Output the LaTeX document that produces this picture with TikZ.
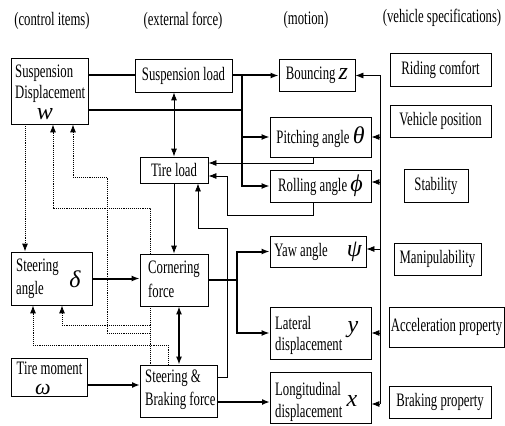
\documentclass[tikz,border=0pt]{standalone}
\usepackage{fontspec}
\setmainfont{Liberation Serif}[FakeStretch=0.67]
\newfontfamily\symf{Liberation Serif}
\usetikzlibrary{arrows.meta}
\newcommand\sy[1]{{\symf\itshape\fontsize{24}{24}\selectfont #1}}
\tikzset{
  box/.style={draw, line width=0.8pt, inner sep=0pt, align=center},
  txt/.style={inner sep=0pt},
  thk/.style={line width=2pt},
  thn/.style={line width=0.8pt},
  med/.style={line width=1.3pt},
  dot/.style={line width=0.9pt, densely dotted},
  tip/.style={-{Latex[length=8pt,width=6pt]}},
  tipboth/.style={{Latex[length=8pt,width=6pt]}-{Latex[length=8pt,width=6pt]}},
  every node/.style={font=\fontsize{19}{21}\selectfont}
}
\begin{document}
\begin{tikzpicture}[x=1pt,y=-1pt]
\fill[white] (0,0) rectangle (505,425);
\useasboundingbox (0,0) rectangle (505,425);

% headers
\node[txt] (h1) at (52,21) {(control items)};
\node[txt] (h2) at (183,21) {(external force)};
\node[txt] (h3) at (306,20) {(motion)};
\node[txt] (h4) at (442,18) {(vehicle specifications)};

% control items
\node[box,minimum width=77,minimum height=66] (sd) at (49.5,91) {};
\node[txt,anchor=west] (sd1) at (15,73) {Suspension};
\node[txt,anchor=west] (sd2) at (15,94) {Displacement};
\node[txt] (sd3) at (45,114) {\sy{w}};

\node[box,minimum width=81,minimum height=53] (sa) at (51.5,278.5) {};
\node[txt,anchor=west] (sa1) at (16,267) {Steering};
\node[txt,anchor=west] (sa2) at (16,290) {angle};
\node[txt] (sa3) at (75,279) {\sy{δ}};

\node[box,minimum width=76,minimum height=38] (tm) at (49,377) {};
\node[txt] (tm1) at (49.5,368) {Tire moment};
\node[txt] (tm2) at (43,389) {{\symf\itshape\fontsize{22}{22}\selectfont ω}};

% external force
\node[box,minimum width=97,minimum height=33] (sl) at (183.5,75.5) {Suspension load};
\node[box,minimum width=68,minimum height=26] (tl) at (174,170) {Tire load};
\node[box,minimum width=68,minimum height=52] (cf) at (174,280) {};
\node[txt,anchor=west] (cf1) at (148,269) {Cornering};
\node[txt,anchor=west] (cf2) at (148,291) {force};
\node[box,minimum width=77,minimum height=52] (sb) at (178.5,391) {};
\node[txt,anchor=west] (sb1) at (145,378) {Steering \&};
\node[txt,anchor=west] (sb2) at (145,401) {Braking force};

% motion
\node[box,minimum width=76,minimum height=32] (bo) at (317,75.5) {Bouncing \sy{z}};
\node[box,minimum width=101,minimum height=40] (pa) at (320.5,137) {Pitching angle\,\sy{θ}};
\node[box,minimum width=101,minimum height=32] (ra) at (320.5,186) {Rolling angle \sy{ϕ}};
\node[box,minimum width=96,minimum height=31] (ya) at (318,251.5) {Yaw angle\quad\sy{ψ}};
\node[box,minimum width=101,minimum height=52] (ld) at (320.5,333) {};
\node[txt,anchor=west] (ld1) at (275,323) {Lateral};
\node[txt,anchor=west] (ld2) at (275,346) {displacement};
\node[txt] (ld3) at (353,330) {\sy{y}};
\node[box,minimum width=101,minimum height=51] (lo) at (320.5,397.5) {};
\node[txt,anchor=west] (lo1) at (275,391) {Longitudinal};
\node[txt,anchor=west] (lo2) at (275,413) {displacement};
\node[txt] (lo3) at (352,401) {\sy{x}};

% vehicle specifications
\node[box,minimum width=101,minimum height=33] (rc) at (440.5,69.5) {Riding comfort};
\node[box,minimum width=101,minimum height=32] (vp) at (440.5,121) {Vehicle position};
\node[box,minimum width=64,minimum height=33] (st) at (436,185.5) {Stability};
\node[box,minimum width=87,minimum height=32] (ma) at (437.5,259) {Manipulability};
\node[box,minimum width=115,minimum height=40] (ap) at (446.5,327) {Acceleration property};
\node[box,minimum width=102,minimum height=32] (bp) at (440,402) {Braking property};

% helper coordinates
\coordinate (j1) at (242,75.5);
\coordinate (j2) at (242,110);
\coordinate (j3) at (237,280);
\coordinate (t1) at (140,385);
\coordinate (t2) at (270,402);
\coordinate (p1) at (313,163);
\coordinate (r1) at (313,215);
\coordinate (r2) at (227,176);
\coordinate (s1) at (227,377);
\coordinate (s2) at (198,228);
\coordinate (b1) at (380,75.5);
\coordinate (b2) at (380,404);
\coordinate (bR) at (380,182);
\coordinate (bY) at (380,249);
\coordinate (c179) at (179,0);
\coordinate (dA) at (25,0);
\coordinate (dB) at (150,208);
\coordinate (dB2) at (53,0);
\coordinate (dC) at (150,325);
\coordinate (dC2) at (62,0);
\coordinate (dD) at (150,333);
\coordinate (dD2) at (107,177);
\coordinate (dD3) at (73,0);
\coordinate (dE) at (168,345);
\coordinate (dE2) at (33,0);

% thick connectors
\draw[thk] (sd.east |- sl.west) -- (sl.west);
\draw[thk,tip] (sl.east) -- (bo.west);
\draw[thk] (sd.east |- j2) -- (j2);
\draw[thk,tip] (j1) |- (ra.west);
\draw[thk,tip] (j1 |- pa.west) -- (pa.west);
\draw[thk] (cf.east) -- (j3);
\draw[thk,tip] (j3) |- (ya.west);
\draw[thk,tip] (j3) |- (ld.west);
\draw[thk,tip] (sa.east) -- (sa.east -| cf.west);
\draw[thk,tip] (tm.east |- t1) -- (t1);
\draw[thk,tip] (sb.east |- t2) -- (t2);

% thin connectors
\draw[thn,tipboth] (tl.north |- sl.south) -- (tl.north);
\draw[thn,tip] (tl.south) -- (cf.north);
\draw[med,tipboth] (c179 |- cf.south) -- (c179 |- sb.north);
\draw[thn,tip] (pa.south -| p1) -- (p1) -- (p1 -| tl.east);
\draw[thn,tip] (ra.south -| r1) -- (r1) -| (r2) -- (r2 -| tl.east);
\draw[thn,tip] (sb.east |- s1) -- (s1) |- (s2) -- (s2 |- tl.south);

% bus
\draw[thn] (b1) -- (b2);
\draw[thn,tip] (b1) -- (bo.east);
\draw[thn,tip] (b1 |- pa.east) -- (pa.east);
\draw[thn,tip] (bR) -- (bR -| ra.east);
\draw[thn,tip] (bY) -- (bY -| ya.east);
\draw[thn,tip] (b1 |- ld.east) -- (ld.east);
\draw[thn,tip] (b2) -- (b2 -| lo.east);

% dotted connectors
\draw[dot,tip] (sd.south -| dA) -- (sa.north -| dA);
\draw[dot,tip] (cf.north -| dB) -- (dB) -| (sd.south -| dB2);
\draw[dot] (cf.south -| dB) -- (sb.north -| dB);
\draw[dot,tip] (dC) -| (sa.south -| dC2);
\draw[dot,tip] (dD) -| (dD2) -| (sd.south -| dD3);
\draw[dot,tip] (sb.north -| dE) -- (dE) -| (sa.south -| dE2);
\end{tikzpicture}
\end{document}
